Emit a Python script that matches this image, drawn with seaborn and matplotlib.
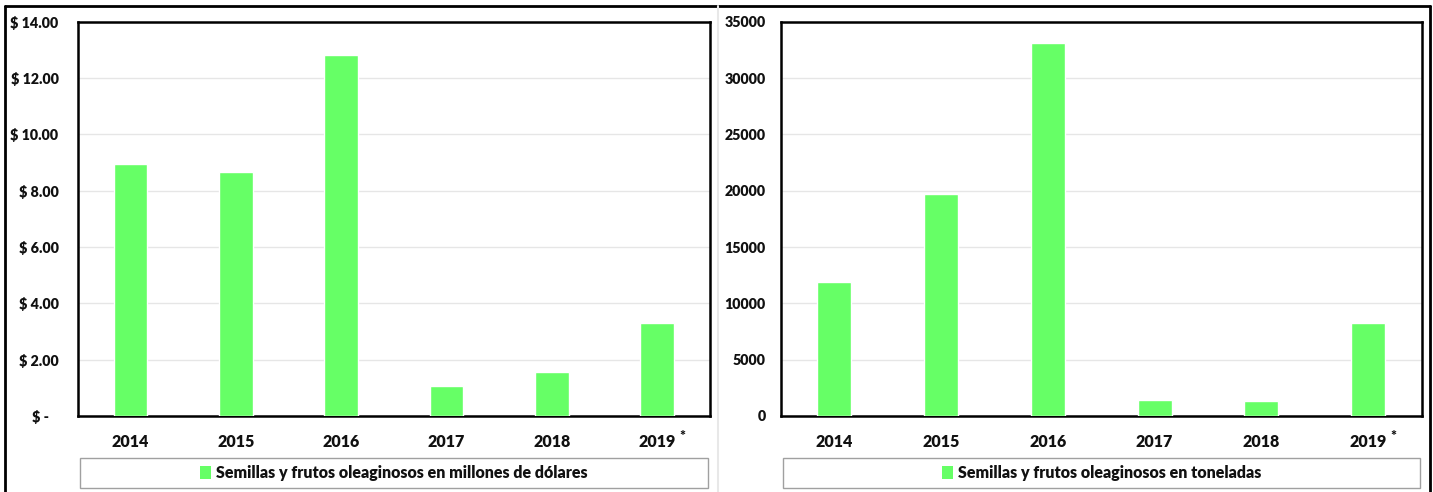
import numpy as np
import pandas as pd
import matplotlib
matplotlib.use('Agg')
from matplotlib import pyplot as plt
from matplotlib.patches import Rectangle, Patch
from matplotlib.lines import Line2D
from matplotlib.ticker import FuncFormatter
import seaborn as sns

# data
years = ['2014', '2015', '2016', '2017', '2018', '2019']
usd_millions = [8.96, 8.66, 12.84, 1.08, 1.58, 3.31]
tonnes = [11900, 19750, 33150, 1450, 1350, 8300]
label_usd = 'Semillas y frutos oleaginosos en millones de dólares'
label_ton = 'Semillas y frutos oleaginosos en toneladas'

bar_color = '#66FF66'

sns.set_style('white')
plt.rcParams['font.family'] = ['Lato', 'DejaVu Sans']
plt.rcParams['font.weight'] = 'heavy'
plt.rcParams['text.color'] = '#111111'
plt.rcParams['xtick.color'] = '#111111'
plt.rcParams['ytick.color'] = '#111111'

fig = plt.figure(figsize=(14.33, 4.92), dpi=100)
ax1 = fig.add_axes([0.0544, 0.1545, 0.441, 0.801])
ax2 = fig.add_axes([0.545, 0.1545, 0.447, 0.801])

df_usd = pd.DataFrame({'year': years, 'value': usd_millions})
df_ton = pd.DataFrame({'year': years, 'value': tonnes})


def money(v, pos):
    if abs(v) < 1e-9:
        return '$ -   '
    return '$ {:.2f}'.format(v)


def style_axis(ax, df, ymax, step, fmt, legend_label, ypad):
    sns.barplot(data=df, x='year', y='value', color=bar_color, width=0.32,
                saturation=1, ax=ax, zorder=3)
    ax.set_ylim(0, ymax)
    ax.set_xlim(-0.5, len(df) - 0.5)
    ax.set_yticks(np.arange(0, ymax + step / 2, step))
    ax.yaxis.set_major_formatter(fmt)
    ax.grid(axis='y', color='#e6e6e6', linewidth=1, zorder=0)
    ax.set_axisbelow(True)
    ax.set_xlabel('')
    ax.set_ylabel('')
    ax.tick_params(axis='x', length=0, labelsize=11.5, pad=13)
    ax.tick_params(axis='y', length=0, labelsize=10.3, pad=ypad)
    for lab in ax.get_xticklabels() + ax.get_yticklabels():
        lab.set_fontweight('heavy')
    for sp in ax.spines.values():
        sp.set_visible(True)
        sp.set_color('black')
        sp.set_linewidth(1.8)
    # asterisk next to the last year
    ax.annotate('*', xy=(len(df) - 1, 0), xycoords=('data', 'axes fraction'),
                xytext=(18, -10), textcoords='offset points', fontsize=10,
                fontweight='heavy', ha='center', va='top')
    # legend with a box spanning the axis width
    ax.add_patch(Rectangle((0.003, -0.183), 0.994, 0.076, transform=ax.transAxes,
                           fill=False, edgecolor='#a0a0a0', linewidth=1,
                           clip_on=False))
    handle = Patch(facecolor=bar_color, edgecolor='none')
    ax.legend([handle], [legend_label], loc='center',
              bbox_to_anchor=(0.5, -0.145), frameon=False,
              handlelength=0.7, handleheight=0.9, handletextpad=0.3,
              prop={'size': 11.5, 'weight': 'heavy'})


style_axis(ax1, df_usd, 14, 2, FuncFormatter(money), label_usd, 14)
style_axis(ax2, df_ton, 35000, 5000,
           FuncFormatter(lambda v, p: '{:d}'.format(int(v))), label_ton, 11)

# outer frame and divider
fig.add_artist(Line2D([0.0035, 0.0035], [0.0, 0.988], color='black', linewidth=2))
fig.add_artist(Line2D([0.0035, 0.998], [0.988, 0.988], color='black', linewidth=2))
fig.add_artist(Line2D([0.998, 0.998], [0.0, 0.988], color='black', linewidth=2))
fig.add_artist(Line2D([0.501, 0.501], [0.0, 0.988], color='#e8e8e8', linewidth=1.5))

plt.savefig('out.png', dpi=100)
